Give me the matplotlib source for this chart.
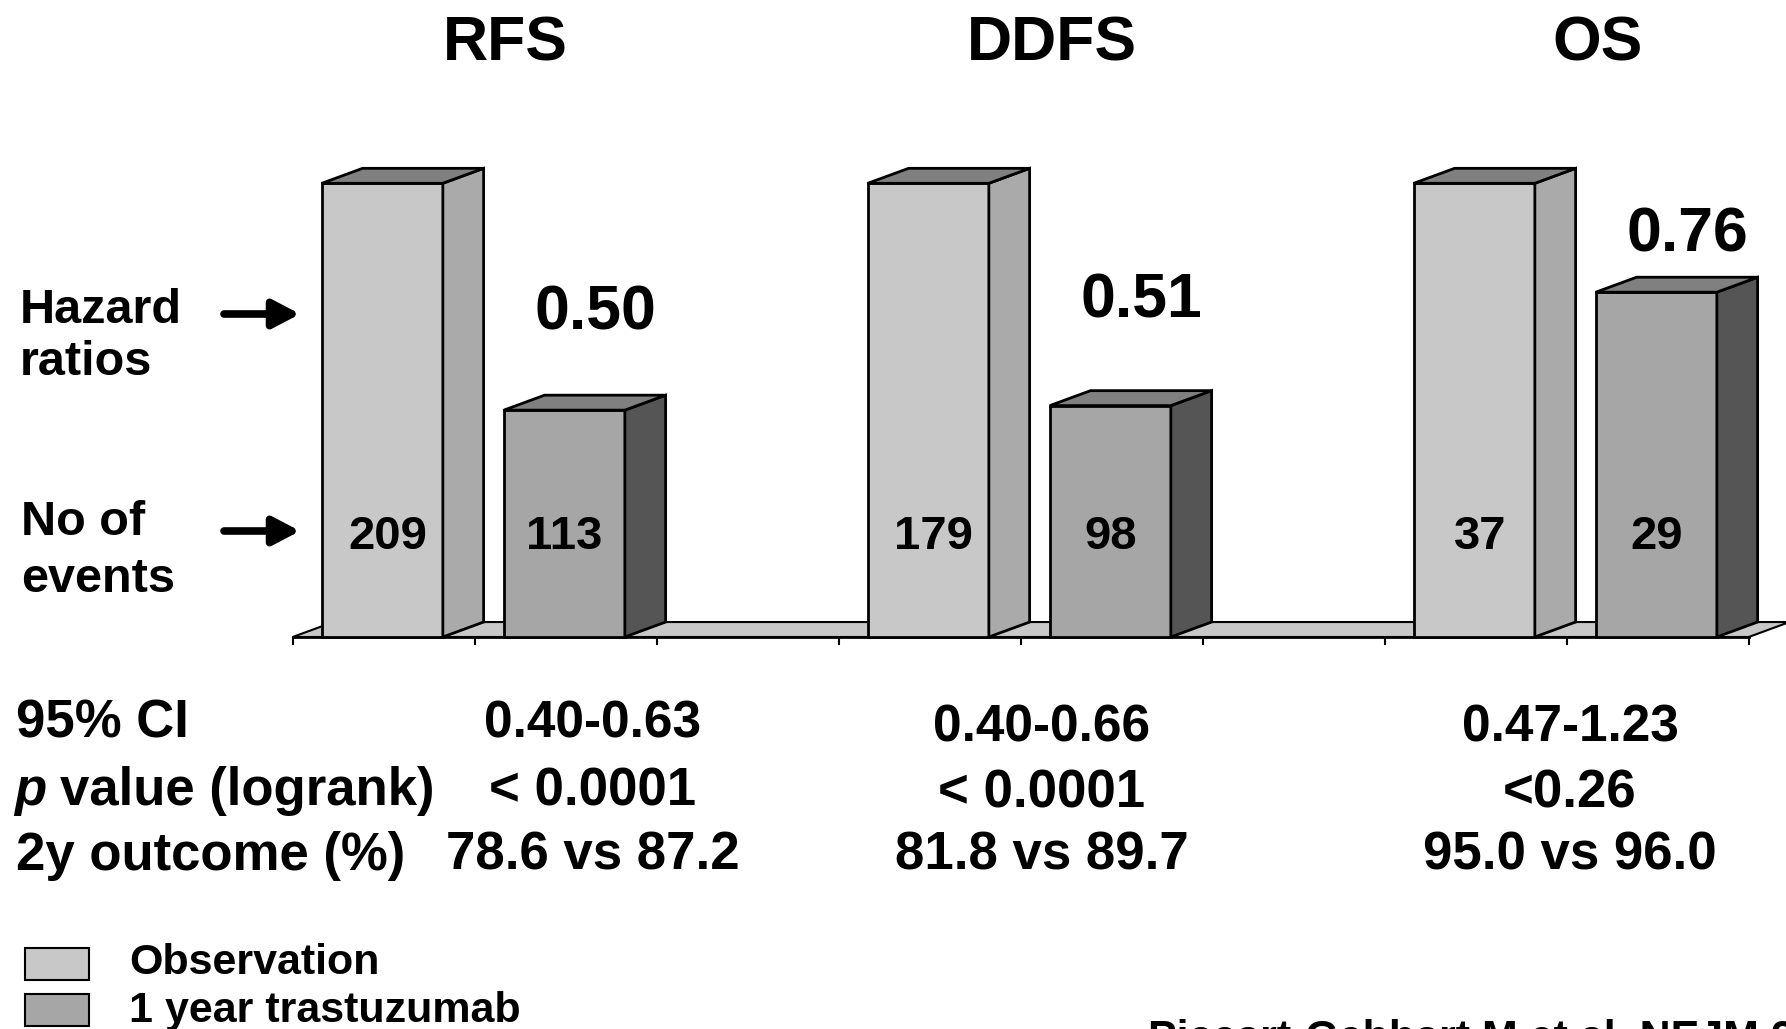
import matplotlib
matplotlib.use("Agg")
import matplotlib.pyplot as plt
from matplotlib.patches import Rectangle, Polygon

plt.rcParams["font.family"] = ["Liberation Sans", "DejaVu Sans"]
plt.rcParams["font.weight"] = "bold"


# Data (trastuzumab HERA trial, observation = reference 1.0)

endpoints = ["RFS", "DDFS", "OS"]
obs_height = [1.0, 1.0, 1.0]
hazard_ratios = [0.50, 0.51, 0.76]
obs_events = [209, 179, 37]
trast_events = [113, 98, 29]
ci_95 = ["0.40-0.63", "0.40-0.66", "0.47-1.23"]
p_values = ["< 0.0001", "< 0.0001", "<0.26"]
outcome_2y = ["78.6 vs 87.2", "81.8 vs 89.7", "95.0 vs 96.0"]
row_labels = ["95% CI", "value (logrank)", "2y outcome (%)"]
legend_labels = ["Observation", "1 year trastuzumab"]
citation = "Piccart-Gebhart M et al. NEJM 2005"


# Layout / style

W, H = 1786, 1029
OBS_FRONT, OBS_SIDE = "#c8c8c8", "#aaaaaa"
TRA_FRONT, TRA_SIDE = "#a6a6a6", "#555555"
TOP = "#808080"
BAR_OFF, BAR_W = 0.16, 0.665
DX, DY = 0.224, 0.033
hr_label_y = [0.677, 0.705, 0.850]
table_x = [593, 1042, 1570]

fig = plt.figure(figsize=(W / 100, H / 100), dpi=100)
ax = fig.add_axes([0, 0, 1, 1])
ax.set_xlim(-292.7 / 182, (W - 292.7) / 182)
ax.set_ylim((637 - H) / 453.7, 637 / 453.7)
ax.axis("off")


def ftext(px, py, s, **kw):
    kw.setdefault("fontweight", "bold")
    return fig.text(px / W, 1 - py / H, s, **kw)


def draw_bar(x0, h, front, side):
    ax.add_patch(Rectangle((x0, 0), BAR_W, h, facecolor=front,
                           edgecolor="black", lw=2, zorder=3))
    ax.add_patch(Polygon([(x0 + BAR_W, 0), (x0 + BAR_W + DX, DY),
                          (x0 + BAR_W + DX, h + DY), (x0 + BAR_W, h)],
                         facecolor=side, edgecolor="black", lw=2, zorder=3))
    ax.add_patch(Polygon([(x0, h), (x0 + BAR_W, h),
                          (x0 + BAR_W + DX, h + DY), (x0 + DX, h + DY)],
                         facecolor=TOP, edgecolor="black", lw=2, zorder=3))


# floor + axis
n_slots = 3 * len(endpoints) - 1
ax.add_patch(Polygon([(0, 0), (n_slots, 0), (n_slots + DX, DY), (DX, DY)],
                     facecolor=OBS_FRONT, edgecolor="black", lw=1.5, zorder=1))
ax.plot([0, n_slots], [0, 0], color="black", lw=2, zorder=2)
ax.vlines(range(n_slots + 1), -8 / 453.7, 0, color="black", lw=1.5, zorder=2)

for g, name in enumerate(endpoints):
    xo = 3 * g + BAR_OFF
    xt = 3 * g + 1 + BAR_OFF
    draw_bar(xo, obs_height[g], OBS_FRONT, OBS_SIDE)
    draw_bar(xt, hazard_ratios[g], TRA_FRONT, TRA_SIDE)

    ax.text(xo + BAR_W / 2 + 0.03, 0.195, str(obs_events[g]), ha="center",
            va="baseline", fontsize=34, fontweight="bold", zorder=4)
    ax.text(xt + BAR_W / 2, 0.195, str(trast_events[g]), ha="center",
            va="baseline", fontsize=34, fontweight="bold", zorder=4)
    ax.text(xt + BAR_W / 2 + 0.17, hr_label_y[g], f"{hazard_ratios[g]:.2f}",
            ha="center", va="baseline", fontsize=45, fontweight="bold")
    ax.text(3 * g + 1 + 0.17, 1.27, name, ha="center", va="baseline",
            fontsize=45, fontweight="bold")

    dy_col = 0 if g == 0 else 4
    ftext(table_x[g], 737 + dy_col, ci_95[g], ha="center", va="baseline", fontsize=37)
    ftext(table_x[g], 805 + dy_col * 0.5, p_values[g], ha="center", va="baseline", fontsize=38)
    ftext(table_x[g], 870, outcome_2y[g], ha="center", va="baseline", fontsize=38)

# left side labels + arrows
ftext(20, 323, "Hazard", va="baseline", fontsize=35)
ftext(20, 375, "ratios", va="baseline", fontsize=35)
ftext(21, 535, "No of", va="baseline", fontsize=35)
ftext(21, 592, "events", va="baseline", fontsize=35)
for py in (314, 531):
    ax.annotate("", xy=(300 / W, 1 - py / H), xytext=(224 / W, 1 - py / H),
                xycoords="figure fraction", textcoords="figure fraction",
                arrowprops=dict(arrowstyle="-|>,head_length=0.8,head_width=0.42",
                                mutation_scale=20, lw=5.5, color="black",
                                shrinkA=0, shrinkB=0))

# table row labels
ftext(16, 737, row_labels[0], va="baseline", fontsize=38)
ftext(14, 805, "p", va="baseline", fontsize=38, fontstyle="italic")
ftext(60, 805, row_labels[1], va="baseline", fontsize=38)
ftext(16, 870, row_labels[2], va="baseline", fontsize=38)

# legend
for (py0, py1), col, lab, base in zip([(948, 980), (994, 1026)],
                                      [OBS_FRONT, TRA_FRONT], legend_labels, [974, 1022]):
    fig.add_artist(Rectangle((25 / W, 1 - py1 / H), 64 / W, (py1 - py0) / H,
                             transform=fig.transFigure, facecolor=col,
                             edgecolor="black", lw=1.5))
    ftext(129, base, lab, va="baseline", fontsize=31)

ftext(1148, 1050, citation, va="baseline", fontsize=31)

fig.savefig("out.png", dpi=100)
